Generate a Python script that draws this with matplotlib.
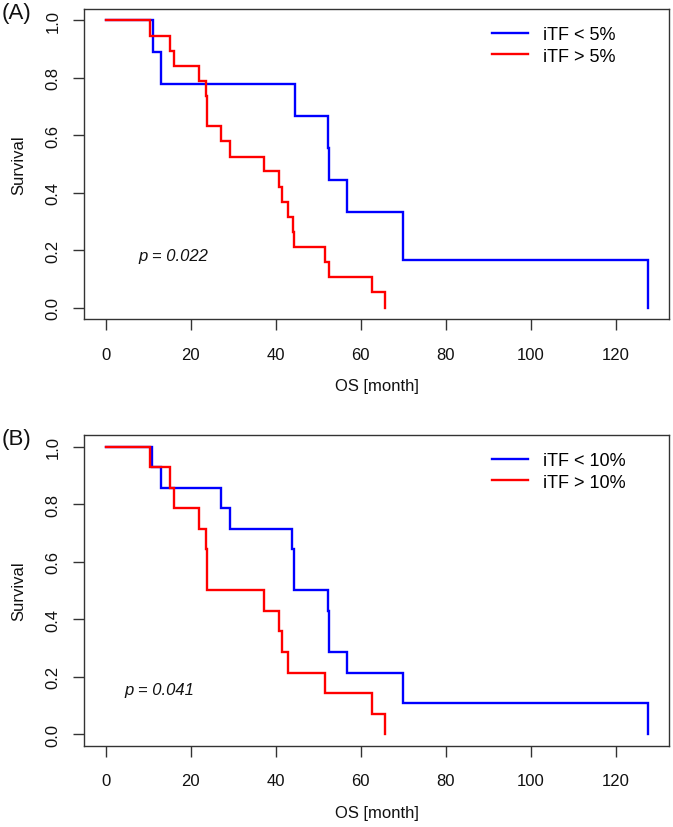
import matplotlib
matplotlib.use("Agg")
import matplotlib.pyplot as plt
import numpy as np

plt.rcParams['font.family'] = ['Liberation Sans', 'DejaVu Sans']

# ---- Panel A data (Kaplan-Meier steps: event times and survival after each step)
a_low_t = [11.2, 12.9, 44.5, 52.2, 52.6, 56.7, 70.0, 127.7]
a_low_s = [0.889, 0.778, 0.667, 0.556, 0.444, 0.333, 0.167, 0.0]
a_high_t = [10.4, 15.1, 16.1, 22.0, 23.6, 23.9, 27.1, 29.2, 37.2, 40.8, 41.4,
            43.0, 44.0, 44.4, 51.6, 52.6, 62.6, 65.7]
a_high_s = [0.947, 0.895, 0.842, 0.789, 0.737, 0.632, 0.579, 0.526, 0.474,
            0.421, 0.368, 0.316, 0.263, 0.211, 0.158, 0.105, 0.053, 0.0]

# ---- Panel B data
b_low_t = [10.8, 12.9, 27.1, 29.2, 43.9, 44.3, 52.2, 52.6, 56.7, 70.0, 127.7]
b_low_s = [0.929, 0.857, 0.786, 0.714, 0.643, 0.500, 0.429, 0.286, 0.214,
           0.107, 0.0]
b_high_t = [10.4, 15.1, 16.1, 22.0, 23.5, 23.8, 23.9, 37.2, 40.8, 41.4, 43.0,
            51.6, 62.6, 65.7]
b_high_s = [0.929, 0.857, 0.786, 0.714, 0.643, 0.571, 0.500, 0.429, 0.357,
            0.286, 0.214, 0.143, 0.071, 0.0]

x_ticks = [0, 20, 40, 60, 80, 100, 120]
y_ticks = [0.0, 0.2, 0.4, 0.6, 0.8, 1.0]

panels = [
    dict(label="(A)", low=(a_low_t, a_low_s), high=(a_high_t, a_high_s),
         names=["iTF < 5%", "iTF > 5%"], p="p = 0.022", p_xy=(7.6, 0.18),
         rect=[84/673, 1-320/828, 585.3/673, 310/828]),
    dict(label="(B)", low=(b_low_t, b_low_s), high=(b_high_t, b_high_s),
         names=["iTF < 10%", "iTF > 10%"], p="p = 0.041", p_xy=(4.3, 0.155),
         rect=[84/673, 1-746.7/828, 585.3/673, 310.7/828]),
]

fig = plt.figure(figsize=(6.73, 8.28), dpi=100)
edge = '#333333'

for pn in panels:
    ax = fig.add_axes(pn['rect'])
    for (t, s), col, name in [(pn['low'], '#0000FF', pn['names'][0]),
                              (pn['high'], '#FF0000', pn['names'][1])]:
        tt = [0.0] + list(t)
        ss = [1.0] + list(s)
        ax.step(tt, ss, where='post', color=col, lw=1.7, label=name,
                solid_joinstyle='miter')
    ax.set_xlim(-5.1, 132.6)
    ax.set_ylim(-0.04, 1.04)
    ax.set_xticks(x_ticks)
    ax.set_xticklabels([str(v) for v in x_ticks])
    ax.set_yticks(y_ticks)
    ax.set_yticklabels([f"{v:.1f}" for v in y_ticks], rotation=90, va='center')
    ax.tick_params(axis='both', direction='out', length=8, width=1.0,
                   color=edge, labelsize=12, labelcolor='#111111')
    ax.tick_params(axis='x', pad=12)
    ax.tick_params(axis='y', pad=9)
    for sp in ax.spines.values():
        sp.set_color(edge)
        sp.set_linewidth(1.0)
    ax.set_xlabel("OS [month]", fontsize=12, labelpad=12, color='#111111')
    ax.set_ylabel("Survival", fontsize=12, labelpad=14, color='#111111')
    ax.text(pn['p_xy'][0], pn['p_xy'][1], pn['p'], fontsize=12, style='italic',
            ha='left', va='center', color='#111111')
    ax.legend(loc='upper left', bbox_to_anchor=(0.697, 0.945), frameon=False,
              fontsize=13, handlelength=2.0, handletextpad=0.8,
              labelspacing=0.25, borderpad=0, borderaxespad=0)
    top_px = (1 - (pn['rect'][1] + pn['rect'][3])) * 828
    fig.text(2/673, 1 - (top_px + 3)/828, pn['label'], fontsize=16,
             ha='left', va='center', color='#111111')

fig.savefig("out.png", dpi=100)
